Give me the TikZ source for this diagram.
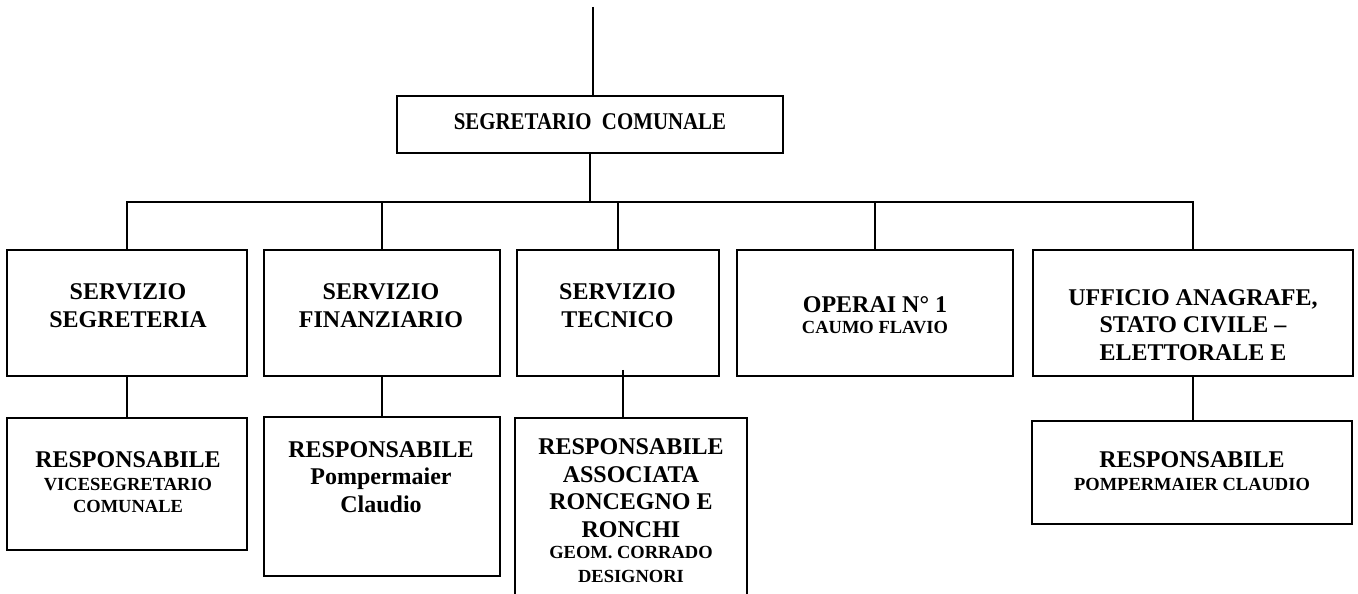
\documentclass[tikz,border=0pt]{standalone}
\usepackage{fontspec}
\setmainfont{Liberation Serif}
\usepackage{graphicx}
\newcommand\txtbig{\fontsize{24}{27.5}\selectfont}
\newcommand\txtsmall{\fontsize{18.5}{22}\selectfont}
\tikzset{
  box/.style={draw, line width=1.8pt, inner sep=0pt, rectangle},
  txt/.style={align=center, anchor=base, inner sep=0pt, font=\txtbig\bfseries},
  conn/.style={line width=1.8pt}
}
\begin{document}
\begin{tikzpicture}[x=1pt,y=-1pt]
\useasboundingbox (0,0) rectangle (1358,594);
% boxes
\node[box, minimum width=386pt, minimum height=57pt] (seg) at (590,124.5) {};
\node[box, minimum width=240pt, minimum height=126pt] (b1) at (127,313) {};
\node[box, minimum width=236pt, minimum height=126pt] (b2) at (382,313) {};
\node[box, minimum width=202pt, minimum height=126pt] (b3) at (618,313) {};
\node[box, minimum width=276pt, minimum height=126pt] (b4) at (875,313) {};
\node[box, minimum width=320pt, minimum height=126pt] (b5) at (1193,313) {};
\node[box, minimum width=240pt, minimum height=132pt] (r1) at (127,484) {};
\node[box, minimum width=236pt, minimum height=159pt] (r2) at (382,496.5) {};
\node[box, minimum width=232pt, minimum height=202pt] (r3) at (631,519) {};
\node[box, minimum width=320pt, minimum height=103pt] (r5) at (1192,472.5) {};
% texts (anchored at the baseline of the last line)
\node[txt] (tseg) at (590,129) {\scalebox{0.87}[1]{SEGRETARIO\ \ COMUNALE}};
\node[txt] (t1) at (128,327) {SERVIZIO\\SEGRETERIA};
\node[txt] (t2) at (381,327) {SERVIZIO\\FINANZIARIO};
\node[txt] (t3) at (617.5,327) {SERVIZIO\\TECNICO};
\node[txt] (t4) at (875,333) {OPERAI N° 1\\[-6.5pt]{\txtsmall CAUMO FLAVIO}};
\node[txt] (t5) at (1193,360) {UFFICIO ANAGRAFE,\\STATO CIVILE --\\ELETTORALE E};
\node[txt] (u1) at (128,512) {RESPONSABILE\\[-4.5pt]{\txtsmall VICESEGRETARIO}\\[-5.5pt]{\txtsmall COMUNALE}};
\node[txt] (u2) at (381,512) {RESPONSABILE\\Pompermaier\\Claudio};
\node[txt] (u3) at (631,582) {RESPONSABILE\\ASSOCIATA\\RONCEGNO E\\RONCHI\\[-6.5pt]{\txtsmall GEOM. CORRADO}\\[-3.5pt]{\txtsmall DESIGNORI}};
\node[txt] (u5) at (1192,490) {RESPONSABILE\\[-4.5pt]{\txtsmall POMPERMAIER CLAUDIO}};
% connectors
\coordinate (top) at (593,7);
\coordinate (busL) at (127,202);
\coordinate (busR) at (1193,202);
\draw[conn] (top) -- (top |- seg.north);
\draw[conn] (seg.south) -- (seg.south |- busL);
\draw[conn, line cap=rect] (busL) -- (busR);
\draw[conn] (b1.north) -- (b1.north |- busL);
\draw[conn] (b2.north) -- (b2.north |- busL);
\draw[conn] (b3.north) -- (b3.north |- busL);
\draw[conn] (b4.north) -- (b4.north |- busL);
\draw[conn] (b5.north) -- (b5.north |- busL);
\draw[conn] (b1.south) -- (b1.south |- r1.north);
\draw[conn] (b2.south) -- (b2.south |- r2.north);
\draw[conn] ([xshift=5pt,yshift=7pt]b3.south) -- ([xshift=5pt]b3.south |- r3.north);
\draw[conn] (b5.south) -- (b5.south |- r5.north);
\end{tikzpicture}
\end{document}
